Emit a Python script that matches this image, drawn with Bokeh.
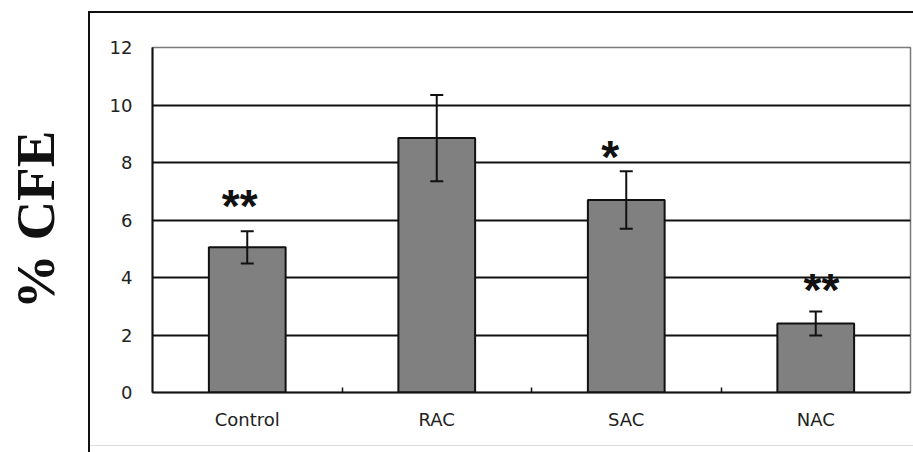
import numpy as np
from bokeh.plotting import figure
from bokeh.models import (ColumnDataSource, FixedTicker, Whisker, TeeHead, Range1d)
from bokeh.core.properties import value
from bokeh.embed import file_html
from bokeh.resources import INLINE

# ---- data ----
categories = ["Control", "RAC", "SAC", "NAC"]
cfe_mean = [5.05, 8.85, 6.70, 2.40]
cfe_err = [0.56, 1.50, 1.00, 0.42]
significance = ["**", "", "*", "**"]
star_height = [6.48, 0.0, 8.20, 3.57]
star_shift = [-0.04, 0.0, -0.085, 0.03]
y_ticks = [0, 2, 4, 6, 8, 10, 12]
y_grid = [2, 4, 6, 8, 10]

x = [i + 0.5 for i in range(len(categories))]
boundaries = [float(i) for i in range(1, len(categories))]

INK = "#111111"

p = figure(width=913, height=452, x_range=Range1d(0, len(categories)), y_range=Range1d(0, 12),
           output_backend="svg", toolbar_location=None,
           min_border_left=152, min_border_right=3, min_border_top=47, min_border_bottom=60)
p.background_fill_color = "white"
p.border_fill_color = None
# outer frame of the figure panel (decoration behind the transparent canvas border)
p.styles = {
    "background": ("linear-gradient(#111,#111) 88px 11px / 2px 441px no-repeat, "
                   "linear-gradient(#111,#111) 88px 11px / 825px 2px no-repeat, "
                   "linear-gradient(#dcdcdc,#dcdcdc) 90px 445px / 823px 1px no-repeat, "
                   "#ffffff"),
}
p.outline_line_color = "#7a7a7a"
p.outline_line_width = 1.5

p.xgrid.visible = False
p.ygrid.ticker = FixedTicker(ticks=y_grid)
p.ygrid.grid_line_color = INK
p.ygrid.grid_line_width = 2

# y axis
p.yaxis.ticker = FixedTicker(ticks=y_ticks)
p.yaxis.major_tick_in = 0
p.yaxis.major_tick_out = 0
p.yaxis.minor_tick_line_color = None
p.yaxis.axis_line_color = INK
p.yaxis.axis_line_width = 2
p.yaxis.major_label_standoff = 20
p.yaxis.major_label_text_font = "DejaVu Sans"
p.yaxis.major_label_text_font_size = "18px"
p.yaxis.major_label_text_color = "#222222"
p.yaxis.axis_label = "% CFE"
p.yaxis.axis_label_text_font = "Liberation Serif"
p.yaxis.axis_label_text_font_style = "bold"
p.yaxis.axis_label_text_font_size = "55px"
p.yaxis.axis_label_text_color = INK
p.yaxis.axis_label_standoff = 41

# x axis
p.xaxis.ticker = FixedTicker(ticks=x, minor_ticks=boundaries)
p.xaxis.major_label_overrides = {xi: c for xi, c in zip(x, categories)}
p.xaxis.major_tick_in = 0
p.xaxis.major_tick_out = 0
p.xaxis.major_tick_line_color = None
p.xaxis.minor_tick_in = 5
p.xaxis.minor_tick_out = 0
p.xaxis.minor_tick_line_color = INK
p.xaxis.minor_tick_line_width = 1.5
p.xaxis.axis_line_color = INK
p.xaxis.axis_line_width = 2
p.xaxis.major_label_standoff = 16
p.xaxis.major_label_text_font = "DejaVu Sans"
p.xaxis.major_label_text_font_size = "18px"
p.xaxis.major_label_text_color = "#222222"

# bars
src = ColumnDataSource(dict(
    x=x, top=cfe_mean,
    upper=[m + e for m, e in zip(cfe_mean, cfe_err)],
    lower=[m - e for m, e in zip(cfe_mean, cfe_err)],
))
p.vbar(x="x", top="top", width=0.405, bottom=0, source=src,
       fill_color="#808080", line_color=INK, line_width=2)

w = Whisker(base="x", upper="upper", lower="lower", source=src, level="overlay",
            line_color=INK, line_width=2,
            upper_head=TeeHead(size=13, line_color=INK, line_width=2),
            lower_head=TeeHead(size=13, line_color=INK, line_width=2))
p.add_layout(w)

# significance stars
sx, sy, st = [], [], []
for xi, sh, h, s in zip(x, star_shift, star_height, significance):
    if s:
        sx.append(xi + sh)
        sy.append(h)
        st.append(s)
p.text(x=sx, y=sy, text=st, text_font=value("Liberation Sans"), text_font_style="bold",
       text_font_size="46px", text_align="center", text_baseline="middle", text_color=INK)

open("out.html", "w").write(file_html(p, INLINE))
